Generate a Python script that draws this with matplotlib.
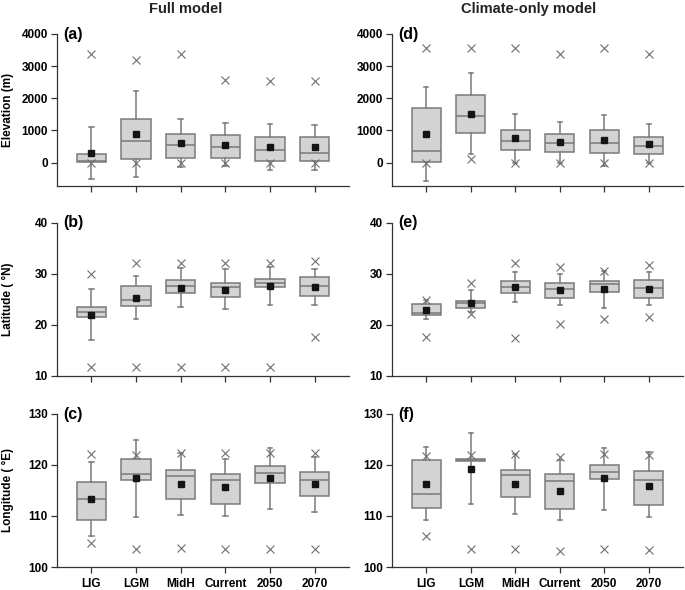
import matplotlib
matplotlib.use("Agg")
import matplotlib.pyplot as plt

plt.rcParams['font.family'] = ['Liberation Sans', 'DejaVu Sans']
plt.rcParams['font.weight'] = 'bold'

periods = ['LIG', 'LGM', 'MidH', 'Current', '2050', '2070']

# (a) Full model - elevation (m)
a_xmax = [3365, 3190, 3365, 2570, 2540, 2540]
a_hi = [1100, 2230, 1365, 1240, 1200, 1170]
a_q3 = [280, 1355, 895, 865, 790, 780]
a_med = [50, 655, 540, 470, 375, 310]
a_q1 = [30, 125, 155, 155, 50, 60]
a_lo = [-500, -450, -135, -115, -220, -240]
a_mean = [300, 885, 595, 550, 490, 470]
a_xmin = [0, 0, -20, 0, 0, 0]

# (d) Climate-only model - elevation (m)
d_xmax = [3560, 3560, 3560, 3365, 3560, 3365]
d_hi = [2355, 2780, 1520, 1260, 1470, 1190]
d_q3 = [1690, 2095, 1000, 875, 1000, 800]
d_med = [365, 1435, 675, 615, 615, 510]
d_q1 = [30, 925, 375, 335, 290, 270]
d_lo = [-585, 260, 0, 0, -105, 0]
d_mean = [895, 1520, 750, 645, 690, 585]
d_xmin = [0, 95, 0, 0, 0, 0]

# (b) Full model - latitude
b_xmax = [30.0, 32.25, 32.25, 32.25, 32.25, 32.6]
b_hi = [27.0, 29.6, 31.1, 30.9, 31.3, 31.0]
b_q3 = [23.6, 27.7, 28.8, 28.3, 29.1, 29.4]
b_med = [22.5, 25.0, 27.65, 27.4, 28.2, 27.6]
b_q1 = [21.5, 23.8, 26.3, 25.4, 27.4, 25.7]
b_lo = [17.0, 21.1, 23.45, 23.05, 23.85, 23.85]
b_mean = [22.0, 25.35, 27.3, 26.9, 27.7, 27.45]
b_xmin = [11.8, 11.8, 11.8, 11.8, 11.8, 17.6]

# (e) Climate-only model - latitude
e_xmax = [25.0, 28.2, 32.1, 31.3, 30.5, 31.8]
e_hi = [24.9, 26.9, 30.3, 30.0, 30.5, 30.3]
e_q3 = [24.05, 24.8, 28.6, 28.3, 28.7, 28.8]
e_med = [22.4, 24.25, 27.5, 27.0, 28.0, 27.2]
e_q1 = [21.95, 23.25, 26.3, 25.35, 26.5, 25.2]
e_lo = [21.15, 22.5, 24.6, 23.85, 23.3, 24.0]
e_mean = [22.9, 24.4, 27.4, 26.9, 27.0, 27.1]
e_xmin = [17.7, 22.1, 17.4, 20.2, 21.15, 21.6]

# (c) Full model - longitude
c_xmax = [122.2, 121.9, 122.3, 122.3, 122.3, 122.3]
c_hi = [120.5, 124.9, 122.3, 121.2, 123.3, 121.5]
c_q3 = [116.7, 121.2, 119.1, 118.3, 119.85, 118.6]
c_med = [113.4, 118.3, 117.8, 117.0, 118.35, 117.1]
c_q1 = [109.2, 117.0, 113.3, 112.45, 116.4, 113.9]
c_lo = [106.0, 109.9, 110.2, 110.0, 111.3, 110.8]
c_mean = [113.3, 117.5, 116.25, 115.7, 117.4, 116.2]
c_xmin = [104.8, 103.5, 103.7, 103.5, 103.5, 103.5]

# (f) Climate-only model - longitude
f_xmax = [121.8, 121.95, 122.2, 121.6, 122.2, 122.0]
f_hi = [123.5, 126.3, 122.2, 120.9, 123.4, 122.5]
f_q3 = [121.0, 121.25, 119.0, 118.2, 120.0, 118.9]
f_med = [114.3, 121.0, 118.0, 116.8, 118.6, 117.0]
f_q1 = [111.6, 120.8, 113.7, 111.3, 117.3, 112.15]
f_lo = [109.15, 112.4, 110.4, 109.3, 111.1, 109.9]
f_mean = [116.35, 119.3, 116.35, 115.0, 117.4, 115.8]
f_xmin = [106.0, 103.5, 103.6, 103.2, 103.5, 103.4]

panels = [
    ('(a)', a_xmax, a_hi, a_q3, a_med, a_q1, a_lo, a_mean, a_xmin),
    ('(d)', d_xmax, d_hi, d_q3, d_med, d_q1, d_lo, d_mean, d_xmin),
    ('(b)', b_xmax, b_hi, b_q3, b_med, b_q1, b_lo, b_mean, b_xmin),
    ('(e)', e_xmax, e_hi, e_q3, e_med, e_q1, e_lo, e_mean, e_xmin),
    ('(c)', c_xmax, c_hi, c_q3, c_med, c_q1, c_lo, c_mean, c_xmin),
    ('(f)', f_xmax, f_hi, f_q3, f_med, f_q1, f_lo, f_mean, f_xmin),
]
ylims = [(-730, 4000), (10, 40), (100, 130)]
yticks = [[0, 1000, 2000, 3000, 4000], [10, 20, 30, 40], [100, 110, 120, 130]]
ylabels = ['Elevation (m)', 'Latitude ( \u00b0N)', 'Longitude ( \u00b0E)']

W, H = 685, 590
fig = plt.figure(figsize=(W / 100, H / 100), dpi=100)

col_left = [57, 392]
col_right = [349, 683]
row_top = [34, 223, 414]
row_bot = [186, 376, 567]

box_col = '#d3d3d3'
edge_col = '#7a7a7a'
pos = list(range(1, 7))

for i, (lab, xmax, hi, q3, med, q1, lo, mean, xmin) in enumerate(panels):
    r, c = i // 2, i % 2
    ax = fig.add_axes([col_left[c] / W, 1 - row_bot[r] / H,
                       (col_right[c] - col_left[c]) / W,
                       (row_bot[r] - row_top[r]) / H])
    stats = []
    for k in range(6):
        stats.append(dict(med=med[k], q1=q1[k], q3=q3[k], whislo=lo[k],
                          whishi=hi[k], mean=mean[k], fliers=[]))
    ax.bxp(stats, positions=pos, widths=0.66, capwidths=0.1,
           patch_artist=True, showfliers=False, showmeans=False,
           boxprops=dict(facecolor=box_col, edgecolor=edge_col, linewidth=1.1),
           medianprops=dict(color=edge_col, linewidth=1.1),
           whiskerprops=dict(color=edge_col, linewidth=1.1),
           capprops=dict(color=edge_col, linewidth=1.1))
    ax.plot(pos, xmax, 'x', color='#6e6e6e', ms=5.5, mew=0.8, zorder=4)
    ax.plot(pos, xmin, 'x', color='#6e6e6e', ms=5.5, mew=0.8, zorder=4)
    ax.plot(pos, mean, 's', color='#141414', ms=5, zorder=5)

    ax.set_xlim(0.23, 6.77)
    ax.set_ylim(*ylims[r])
    ax.set_yticks(yticks[r])
    ax.set_xticks(pos)
    if r == 2:
        ax.set_xticklabels(periods, fontsize=8.5, fontweight='bold')
    else:
        ax.set_xticklabels([])
    ax.tick_params(axis='both', direction='out', length=4, width=0.9,
                   color='#333333', labelsize=8.5, pad=2.5)
    ax.tick_params(axis='x', pad=4)
    for s in ['top', 'right']:
        ax.spines[s].set_visible(False)
    for s in ['left', 'bottom']:
        ax.spines[s].set_color('#333333')
        ax.spines[s].set_linewidth(0.9)
    ax.text(0.02, 1.0, lab, transform=ax.transAxes, fontsize=11.5,
            fontweight='bold', ha='left', va='center')
    if c == 0:
        ax.set_ylabel(ylabels[r], fontsize=8.5, fontweight='bold')
        ax.yaxis.set_label_coords(-0.148, 0.5)

fig.text(186 / W, 1 - 13 / H, 'Full model', fontsize=10.5,
         fontweight='bold', ha='center', va='baseline', color='#222222')
fig.text(529 / W, 1 - 13 / H, 'Climate-only model', fontsize=10.5,
         fontweight='bold', ha='center', va='baseline', color='#222222')

fig.savefig('out.png', dpi=100)
